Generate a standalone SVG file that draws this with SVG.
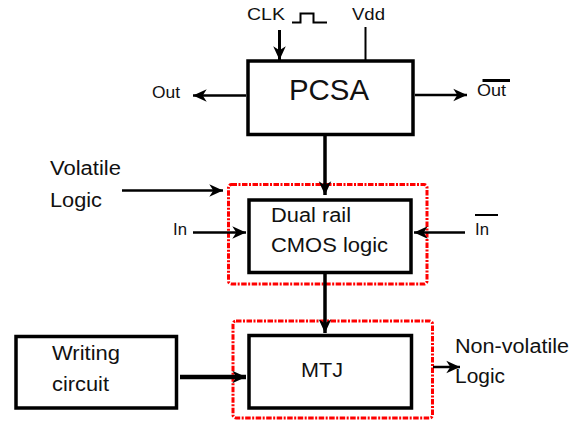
<svg xmlns="http://www.w3.org/2000/svg" width="587" height="423" viewBox="0 0 587 423">
  <style>
    .box { fill: #fff; stroke: #000; stroke-width: 3.5; }
    .dot { fill: none; stroke: #ff0000; stroke-width: 3; stroke-dasharray: 5.5 1.5 2 1.5; }
    .t { font-family: "Liberation Sans", Arial, sans-serif; fill: #111; }
    .ln { fill: none; stroke: #000; }
  </style>
  <defs>
    <marker id="ah" markerUnits="userSpaceOnUse" markerWidth="16" markerHeight="14" viewBox="-13 -6 14 12" refX="0" refY="0" orient="auto">
      <path d="M0,0 L-12,-5.5 L-8.5,0 L-12,5.5 Z" fill="#000"/>
    </marker>
  </defs>
  <rect width="587" height="423" fill="#fff"/>

  <g id="dashed-groups">
    <rect class="dot" x="228.5" y="184.5" width="198.5" height="99.5" rx="3"/>
    <rect class="dot" x="233" y="321" width="199.5" height="97" rx="3"/>
  </g>

  <g id="pcsa">
    <rect class="box" x="248" y="61" width="165" height="73.5"/>
    <text class="t" x="289" y="100" font-size="30" textLength="80" lengthAdjust="spacingAndGlyphs">PCSA</text>
  </g>

  <g id="dual-rail">
    <rect class="box" x="249" y="200" width="162" height="72.5"/>
    <text class="t" x="271" y="222" font-size="19.5" textLength="80" lengthAdjust="spacingAndGlyphs">Dual rail</text>
    <text class="t" x="271" y="252" font-size="19.5" textLength="117" lengthAdjust="spacingAndGlyphs">CMOS logic</text>
  </g>

  <g id="mtj">
    <rect class="box" x="249" y="335.5" width="162.5" height="72.5"/>
    <text class="t" x="301" y="377" font-size="20" textLength="42" lengthAdjust="spacingAndGlyphs">MTJ</text>
  </g>

  <g id="writing">
    <rect class="box" x="16" y="336.5" width="160.5" height="71.5"/>
    <text class="t" x="52" y="360" font-size="19.5" textLength="68" lengthAdjust="spacingAndGlyphs">Writing</text>
    <text class="t" x="52" y="391" font-size="19.5" textLength="57" lengthAdjust="spacingAndGlyphs">circuit</text>
  </g>

  <g id="labels">
    <text class="t" x="247" y="20" font-size="17" textLength="38" lengthAdjust="spacingAndGlyphs">CLK</text>
    <text class="t" x="352" y="20" font-size="17" textLength="33" lengthAdjust="spacingAndGlyphs">Vdd</text>
    <text class="t" x="152" y="98" font-size="17" textLength="28" lengthAdjust="spacingAndGlyphs">Out</text>
    <text class="t" x="477" y="96" font-size="17" textLength="29" lengthAdjust="spacingAndGlyphs">Out</text>
    <line x1="482.5" y1="80.5" x2="510" y2="80.5" stroke="#000" stroke-width="3"/>
    <text class="t" x="50" y="175" font-size="19.5" textLength="71" lengthAdjust="spacingAndGlyphs">Volatile</text>
    <text class="t" x="50" y="207" font-size="19.5" textLength="52" lengthAdjust="spacingAndGlyphs">Logic</text>
    <text class="t" x="173" y="235" font-size="17" textLength="14" lengthAdjust="spacingAndGlyphs">In</text>
    <text class="t" x="475" y="235" font-size="17" textLength="14" lengthAdjust="spacingAndGlyphs">In</text>
    <line x1="475" y1="215" x2="498" y2="215" stroke="#000" stroke-width="2"/>
    <text class="t" x="455" y="353" font-size="19.5" textLength="114" lengthAdjust="spacingAndGlyphs">Non-volatile</text>
    <text class="t" x="455" y="383" font-size="19.5" textLength="50" lengthAdjust="spacingAndGlyphs">Logic</text>
    <polyline class="ln" stroke-width="2" points="292,22.5 300.5,22.5 300.5,13.5 313.5,13.5 313.5,22.5 327,22.5"/>
  </g>

  <g id="connectors">
    <line class="ln" x1="279.5" y1="30" x2="279.5" y2="60" stroke-width="3" marker-end="url(#ah)"/>
    <line class="ln" x1="365.5" y1="27" x2="365.5" y2="60" stroke-width="2"/>
    <line class="ln" x1="246" y1="95.5" x2="193" y2="95.5" stroke-width="2.5" marker-end="url(#ah)"/>
    <line class="ln" x1="415" y1="95" x2="467" y2="95" stroke-width="2.5" marker-end="url(#ah)"/>
    <line class="ln" x1="325" y1="136" x2="325" y2="195" stroke-width="3.5" marker-end="url(#ah)"/>
    <line class="ln" x1="122" y1="190.5" x2="223" y2="190.5" stroke-width="2.5" marker-end="url(#ah)"/>
    <line class="ln" x1="193" y1="232.5" x2="246" y2="232.5" stroke-width="2.5" marker-end="url(#ah)"/>
    <line class="ln" x1="465" y1="232.5" x2="414" y2="232.5" stroke-width="2.5" marker-end="url(#ah)"/>
    <line class="ln" x1="325" y1="273" x2="325" y2="333" stroke-width="3.5" marker-end="url(#ah)"/>
    <line class="ln" x1="180" y1="377" x2="246" y2="377" stroke-width="4.5" marker-end="url(#ah)"/>
    <line class="ln" x1="433" y1="367" x2="460" y2="367" stroke-width="2.5" marker-end="url(#ah)"/>
  </g>
</svg>
